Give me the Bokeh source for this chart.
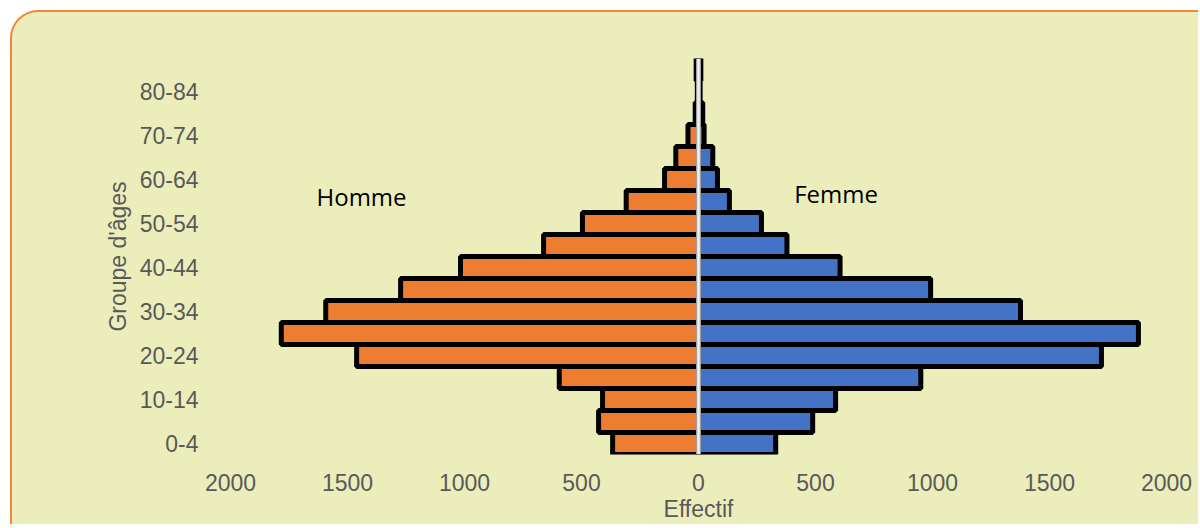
from bokeh.plotting import figure
from bokeh.models import Range1d, FixedTicker, CustomJSTickFormatter, Span, Label, ColumnDataSource
from bokeh.embed import file_html
from bokeh.resources import INLINE

ages = ["0-4", "5-9", "10-14", "15-19", "20-24", "25-29", "30-34", "35-39", "40-44",
        "45-49", "50-54", "55-59", "60-64", "65-69", "70-74", "75-79", "80-84", "85+"]
male = [367, 427, 410, 595, 1461, 1783, 1593, 1273, 1017, 662, 496, 309, 145, 97, 45, 14, 5, 10]
female = [330, 488, 586, 950, 1722, 1880, 1376, 992, 605, 378, 269, 132, 81, 61, 24, 18, 7, 10]
x_ticks = [-2000, -1500, -1000, -500, 0, 500, 1000, 1500, 2000]
y_ticks = [0, 2, 4, 6, 8, 10, 12, 14, 16]

BG = "#EBEEBB"
ORANGE = "#ED7D31"
BLUE = "#4472C4"
GREY = "#595959"

idx = list(range(len(ages)))
src = ColumnDataSource(dict(
    y=idx,
    mleft=[-m for m in male],
    zero=[0] * len(ages),
    fright=female,
))

p = figure(width=1188, height=514, output_backend="svg", toolbar_location=None,
           x_range=Range1d(-2000, 2000), y_range=Range1d(-0.5, len(ages) - 0.5),
           min_border_left=218, min_border_right=34, min_border_top=46, min_border_bottom=72)
p.background_fill_alpha = 0
p.border_fill_alpha = 0
p.outline_line_color = None
p.xgrid.visible = False
p.ygrid.visible = False
p.styles = {"margin-left": "10px", "margin-top": "10px",
            "background-color": BG,
            "border-left": "2px solid #F0883C", "border-top": "2px solid #F0883C",
            "border-top-left-radius": "28px", "overflow": "hidden"}

p.hbar(y="y", left="mleft", right="zero", height=1.0, source=src,
       fill_color=ORANGE, line_color="black", line_width=5)
p.hbar(y="y", left="zero", right="fright", height=1.0, source=src,
       fill_color=BLUE, line_color="black", line_width=5)

p.add_layout(Span(location=0, dimension="height", line_color="#A0A0A0", line_width=5))
p.add_layout(Span(location=0, dimension="height", line_color="#F2F2F2", line_width=2.5))

xa = p.xaxis[0]
xa.ticker = FixedTicker(ticks=x_ticks)
xa.formatter = CustomJSTickFormatter(code="return Math.abs(tick).toString()")
xa.axis_label = "Effectif"
ya = p.yaxis[0]
ya.ticker = FixedTicker(ticks=y_ticks)
ya.formatter = CustomJSTickFormatter(args=dict(labels=ages), code="return labels[Math.round(tick)]")
ya.axis_label = "Groupe d'âges"

for ax in (xa, ya):
    ax.axis_line_color = None
    ax.major_tick_line_color = None
    ax.minor_tick_line_color = None
    ax.major_label_text_font = "Liberation Sans"
    ax.major_label_text_font_size = "23px"
    ax.major_label_text_color = GREY
    ax.axis_label_text_font = "Liberation Sans"
    ax.axis_label_text_font_size = "23px"
    ax.axis_label_text_font_style = "normal"
    ax.axis_label_text_color = GREY
xa.major_label_standoff = 13
xa.axis_label_standoff = 2
ya.major_label_standoff = 26
ya.axis_label_standoff = 6

p.add_layout(Label(x=-1440, y=11.25, text="Homme", text_align="center", text_baseline="middle",
                   text_font="Open Sans", text_font_size="24px", text_color="black"))
p.add_layout(Label(x=588, y=11.35, text="Femme", text_align="center", text_baseline="middle",
                   text_font="Open Sans", text_font_size="24px", text_color="black"))

open("out.html", "w").write(file_html(p, INLINE))
